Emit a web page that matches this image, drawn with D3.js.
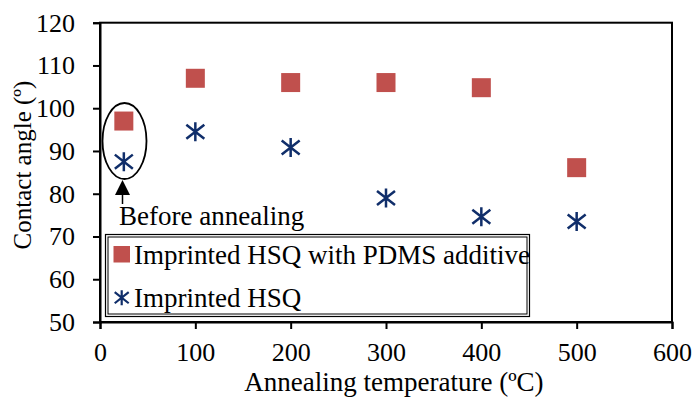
<!DOCTYPE html>
<html><head><meta charset="utf-8">
<script src="https://cdn.jsdelivr.net/npm/d3@7"></script>
<style>body{margin:0;background:#fff}svg{display:block}text{font-family:"Liberation Serif","Times New Roman",serif;fill:#000}</style>
</head><body>
<svg id="c" width="694" height="397"></svg>
<script>
const temps = [25, 100, 200, 300, 400, 500];
const pdmsValues = [97, 107, 106, 106, 104.8, 86.1];
const hsqValues = [87.5, 94.5, 90.8, 79, 74.6, 73.5];
const xTicks = [0, 100, 200, 300, 400, 500, 600];
const yTicks = [50, 60, 70, 80, 90, 100, 110, 120];
const seriesNames = ["Imprinted HSQ with PDMS additive", "Imprinted HSQ"];
const annotation = "Before annealing";

const svg = d3.select("#c");
const L = 100, R = 672, T = 22.7, B = 322;
const x = d3.scaleLinear().domain([0, 600]).range([L, R]);
const y = d3.scaleLinear().domain([50, 120]).range([B, T]);
const red = "#C0504D", navy = "#102E6A";
const fs = 27, tfs = 26;

// frame (top/right)
svg.append("rect").attr("x", L).attr("y", T).attr("width", R - L).attr("height", B - T)
  .attr("fill", "none").attr("stroke", "#000").attr("stroke-width", 2);

// axes
const xAxis = svg.append("g").attr("transform", `translate(0,${B})`)
  .call(d3.axisBottom(x).tickValues(xTicks).tickSize(7).tickPadding(14).tickFormat(d3.format("d")));
const yAxis = svg.append("g").attr("transform", `translate(${L},0)`)
  .call(d3.axisLeft(y).tickValues(yTicks).tickSize(7).tickPadding(18).tickFormat(d3.format("d")));
[xAxis, yAxis].forEach(g => {
  g.select(".domain").attr("stroke", "#000").attr("stroke-width", 2);
  g.selectAll(".tick line").attr("stroke", "#000").attr("stroke-width", 2);
  g.selectAll("text").style("font-family", '"Liberation Serif",serif').style("font-size", tfs + "px").attr("fill", "#000");
});

// axis titles
svg.append("text").attr("x", 394).attr("y", 391).attr("text-anchor", "middle")
  .style("font-size", fs + "px").text("Annealing temperature (ºC)");
svg.append("text").attr("transform", `translate(31,165) rotate(-90)`).attr("text-anchor", "middle")
  .style("font-size", "25px").text("Contact angle (º)");

// star path
function star(s) {
  const h = s / 2, d = s * 0.37;
  return `M0,${-h}L0,${h}M${-h + 0.5},${-d}L${h - 0.5},${d}M${-h + 0.5},${d}L${h - 0.5},${-d}`;
}

// series: squares
const sq = 19;
svg.append("g").selectAll("rect").data(temps).join("rect")
  .attr("x", (d) => x(d) - sq / 2).attr("y", (d, i) => y(pdmsValues[i]) - sq / 2)
  .attr("width", sq).attr("height", sq).attr("fill", red);
// series: stars
svg.append("g").selectAll("path").data(temps).join("path")
  .attr("transform", (d, i) => `translate(${x(d)},${y(hsqValues[i])})`)
  .attr("d", star(19)).attr("stroke", navy).attr("stroke-width", 2.5).attr("fill", "none");

// annotation ellipse + arrow
svg.append("ellipse").attr("cx", 124.5).attr("cy", 141).attr("rx", 22).attr("ry", 38)
  .attr("fill", "none").attr("stroke", "#000").attr("stroke-width", 1.8);
svg.append("line").attr("x1", 122.5).attr("x2", 122.5).attr("y1", 190).attr("y2", 204)
  .attr("stroke", "#000").attr("stroke-width", 1.5);
svg.append("path").attr("d", "M122.5,180L115,195L130,195Z").attr("fill", "#000");
svg.append("text").attr("x", 119).attr("y", 225).style("font-size", fs + "px").text(annotation);

// legend
const lg = svg.append("g");
lg.append("rect").attr("x", 105.5).attr("y", 234.5).attr("width", 424).attr("height", 82)
  .attr("fill", "#fff").attr("stroke", "#000").attr("stroke-width", 1.2);
lg.append("rect").attr("x", 108).attr("y", 237).attr("width", 419).attr("height", 77)
  .attr("fill", "none").attr("stroke", "#000").attr("stroke-width", 1);
lg.append("rect").attr("x", 113.5).attr("y", 246).attr("width", 16.5).attr("height", 16.5).attr("fill", red);
lg.append("text").attr("x", 134).attr("y", 264).style("font-size", fs + "px").text(seriesNames[0]);
lg.append("path").attr("transform", "translate(121.7,297.7)").attr("d", star(15))
  .attr("stroke", navy).attr("stroke-width", 2.2).attr("fill", "none");
lg.append("text").attr("x", 134).attr("y", 306.5).style("font-size", fs + "px").text(seriesNames[1]);
</script>
</body></html>
